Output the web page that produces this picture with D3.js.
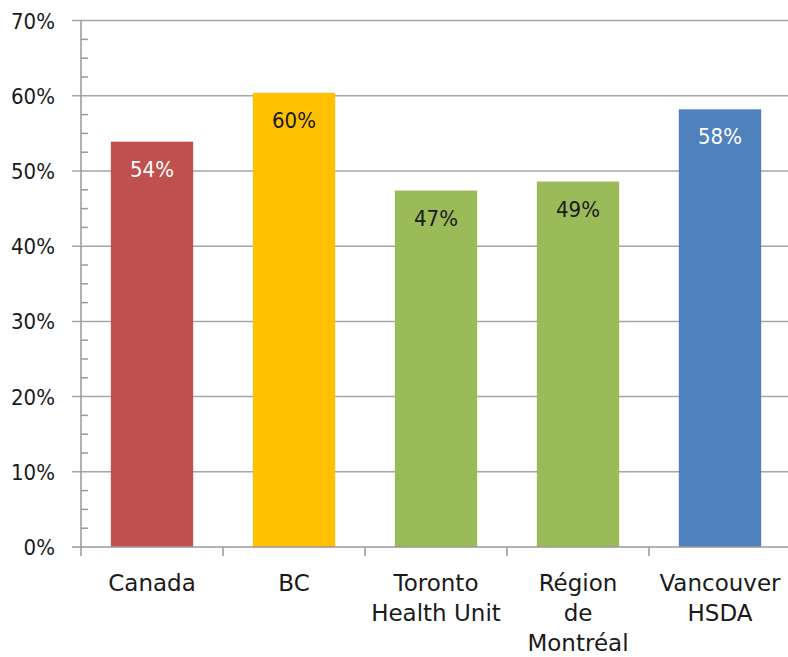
<!DOCTYPE html>
<html>
<head>
<meta charset="utf-8">
<script src="https://cdn.jsdelivr.net/npm/d3@7"></script>
<style>
  body { margin: 0; background: #fff; }
  svg text { fill: #1a1a1a; }
</style>
</head>
<body>
<div id="chart"></div>
<script>
// chart data
var categories = [["Canada"], ["BC"], ["Toronto", "Health Unit"], ["Région", "de", "Montréal"], ["Vancouver", "HSDA"]];
var values = [53.9, 60.4, 47.4, 48.6, 58.2];
var valueLabels = ["54%", "60%", "47%", "49%", "58%"];
var barColors = ["#C0504D", "#FFC000", "#9BBB59", "#9BBB59", "#4F81BD"];
var labelColors = ["#ffffff", "#1a1a1a", "#1a1a1a", "#1a1a1a", "#ffffff"];
var yTicks = [0, 10, 20, 30, 40, 50, 60, 70];

var width = 788, height = 657;
var plotLeft = 81, plotTop = 20.6, plotH = 526.4, band = 142;

var svg = d3.select("#chart").append("svg")
    .attr("width", width)
    .attr("height", height);

var x = d3.scaleBand()
    .domain(d3.range(categories.length))
    .range([plotLeft, plotLeft + band * categories.length])
    .paddingInner(0.42)
    .paddingOuter(0.21);

var y = d3.scaleLinear()
    .domain([0, 70])
    .range([plotTop + plotH, plotTop]);

// gridlines
svg.selectAll(".grid").data(yTicks.slice(1))
    .enter().append("line")
    .attr("x1", plotLeft - 9).attr("x2", width)
    .attr("y1", function (d) { return y(d); })
    .attr("y2", function (d) { return y(d); })
    .attr("stroke", "#a6a6a6")
    .attr("stroke-width", 1.5);

// minor ticks every 2.5%
svg.selectAll(".minor").data(d3.range(0, 70, 2.5).filter(function (d) { return d % 10 !== 0; }))
    .enter().append("line")
    .attr("x1", plotLeft).attr("x2", plotLeft + 7)
    .attr("y1", function (d) { return y(d); })
    .attr("y2", function (d) { return y(d); })
    .attr("stroke", "#999")
    .attr("stroke-width", 1.5);

// bars
svg.selectAll(".bar").data(values)
    .enter().append("rect")
    .attr("x", function (d, i) { return x(i); })
    .attr("y", function (d) { return y(d); })
    .attr("width", x.bandwidth())
    .attr("height", function (d) { return y(0) - y(d); })
    .attr("fill", function (d, i) { return barColors[i]; });

// value labels
svg.selectAll(".val").data(values)
    .enter().append("text")
    .attr("x", function (d, i) { return x(i) + x.bandwidth() / 2; })
    .attr("y", function (d) { return y(d) + 35; })
    .attr("text-anchor", "middle")
    .style("font-family", "'DejaVu Sans Condensed', 'DejaVu Sans', sans-serif")
    .style("font-size", "22px")
    .style("fill", function (d, i) { return labelColors[i]; })
    .text(function (d, i) { return valueLabels[i]; });

// y axis
svg.append("line")
    .attr("x1", plotLeft).attr("x2", plotLeft)
    .attr("y1", y(70)).attr("y2", y(0))
    .attr("stroke", "#999").attr("stroke-width", 1.5);

svg.append("line")
    .attr("x1", plotLeft - 9).attr("x2", plotLeft)
    .attr("y1", y(0)).attr("y2", y(0))
    .attr("stroke", "#999").attr("stroke-width", 1.5);

svg.selectAll(".ylab").data(yTicks)
    .enter().append("text")
    .attr("x", 55)
    .attr("y", function (d) { return y(d) + 8; })
    .attr("text-anchor", "end")
    .style("font-family", "'DejaVu Sans Condensed', 'DejaVu Sans', sans-serif")
    .style("font-size", "22px")
    .text(function (d) { return d + "%"; });

// x axis
svg.append("line")
    .attr("x1", plotLeft).attr("x2", width)
    .attr("y1", y(0)).attr("y2", y(0))
    .attr("stroke", "#999").attr("stroke-width", 1.5);

svg.selectAll(".xtick").data(d3.range(categories.length + 1))
    .enter().append("line")
    .attr("x1", function (d) { return plotLeft + d * band; })
    .attr("x2", function (d) { return plotLeft + d * band; })
    .attr("y1", y(0)).attr("y2", y(0) + 9)
    .attr("stroke", "#999").attr("stroke-width", 1.5);

var catLabels = svg.selectAll(".xlab").data(categories)
    .enter().append("text")
    .attr("text-anchor", "middle")
    .style("font-family", "'DejaVu Sans', sans-serif")
    .style("font-size", "23px");

catLabels.selectAll("tspan").data(function (d, i) {
        return d.map(function (line, j) { return {line: line, j: j, i: i}; });
    })
    .enter().append("tspan")
    .attr("x", function (d) { return x(d.i) + x.bandwidth() / 2; })
    .attr("y", function (d) { return 591 + d.j * 30; })
    .text(function (d) { return d.line; });
</script>
</body>
</html>
